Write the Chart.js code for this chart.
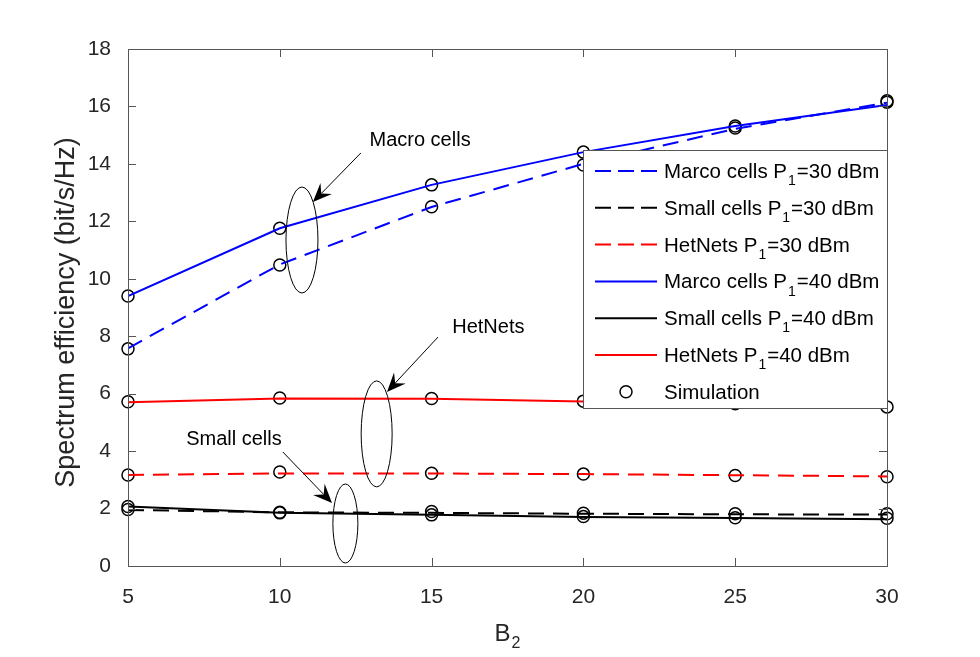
<!DOCTYPE html>
<html>
<head>
<meta charset="utf-8">
<script src="https://cdn.jsdelivr.net/npm/chart.js@4.4.1/dist/chart.umd.min.js"></script>
<style>
  html, body { margin: 0; padding: 0; background: #fff; }
</style>
</head>
<body>
<canvas id="chart" width="980" height="657"></canvas>
<script>
// x values (B2)
const b2 = [5, 10, 15, 20, 25, 30];

// analytical curves
const macro30 = [7.58, 10.5, 12.5, 14.0, 15.22, 16.13];
const small30 = [1.95, 1.87, 1.85, 1.82, 1.80, 1.79];
const het30 = [3.17, 3.22, 3.22, 3.20, 3.16, 3.12];
const macro40 = [9.4, 11.76, 13.27, 14.41, 15.32, 16.05];
const small40 = [2.07, 1.85, 1.78, 1.71, 1.67, 1.63];
const het40 = [5.70, 5.83, 5.82, 5.73, 5.63, 5.55];

// simulation markers
const simMacro30 = [7.56, 10.48, 12.51, 13.96, 15.25, 16.2];
const simMacro40 = [9.40, 11.76, 13.27, 14.41, 15.32, 16.15];
const simSmall30 = [1.97, 1.87, 1.90, 1.84, 1.82, 1.82];
const simSmall40 = [2.07, 1.85, 1.78, 1.72, 1.68, 1.66];
const simHet30 = [3.17, 3.27, 3.23, 3.20, 3.15, 3.11];
const simHet40 = [5.72, 5.85, 5.83, 5.74, 5.65, 5.54];

const yTicks = [0, 2, 4, 6, 8, 10, 12, 14, 16, 18];
const xTicks = [5, 10, 15, 20, 25, 30];

const FONT = '"Liberation Sans", Arial, Helvetica, sans-serif';
const TEXT = '#262626';

const pts = (ys) => ys.map((y, i) => ({ x: b2[i], y: y }));

function series(label, values, color, dashed) {
  return {
    label: label,
    data: pts(values),
    borderColor: color,
    backgroundColor: color,
    borderWidth: 2,
    borderDash: dashed ? [16, 9] : [],
    pointRadius: 0,
    tension: 0,
    fill: false,
  };
}

const simPoints = [simMacro30, simMacro40, simSmall30, simSmall40, simHet30, simHet40]
  .map(pts)
  .flat();

// legend rows: [name, power, color, dashed]
const legendRows = [
  ['Marco cells', '30', '#0000ff', true],
  ['Small cells', '30', '#000000', true],
  ['HetNets', '30', '#ff0000', true],
  ['Marco cells', '40', '#0000ff', false],
  ['Small cells', '40', '#000000', false],
  ['HetNets', '40', '#ff0000', false],
];

// annotations, anchored in data units
const notes = [
  { text: 'Macro cells', tx: 14.62, ty: 14.83, from: [12.67, 14.38], to: [11.09, 12.67], ex: 10.73, ey: 11.35, rx: 16, ry: 53 },
  { text: 'HetNets', tx: 16.87, ty: 8.32, from: [15.21, 7.97], to: [13.53, 6.06], ex: 13.19, ey: 4.60, rx: 15.5, ry: 53 },
  { text: 'Small cells', tx: 8.49, ty: 4.39, from: [10.1, 3.97], to: [11.72, 2.19], ex: 12.16, ey: 1.48, rx: 12.5, ry: 39.5 },
];

function drawSub(ctx, x, y, main, sub, rest, size) {
  ctx.font = size + 'px ' + FONT;
  ctx.fillText(main, x, y);
  x += ctx.measureText(main).width;
  ctx.font = Math.round(size * 0.7) + 'px ' + FONT;
  ctx.fillText(sub, x + 1, y + size * 0.35);
  x += ctx.measureText(sub).width + 2;
  ctx.font = size + 'px ' + FONT;
  ctx.fillText(rest, x, y);
}

function arrow(ctx, x1, y1, x2, y2) {
  const ang = Math.atan2(y2 - y1, x2 - x1);
  const len = 19, half = 8, notch = 12;
  ctx.beginPath();
  ctx.moveTo(x1, y1);
  ctx.lineTo(x2 - Math.cos(ang) * notch, y2 - Math.sin(ang) * notch);
  ctx.lineWidth = 1;
  ctx.stroke();
  ctx.beginPath();
  ctx.moveTo(x2, y2);
  ctx.lineTo(x2 - Math.cos(ang) * len - Math.sin(ang) * half, y2 - Math.sin(ang) * len + Math.cos(ang) * half);
  ctx.lineTo(x2 - Math.cos(ang) * notch, y2 - Math.sin(ang) * notch);
  ctx.lineTo(x2 - Math.cos(ang) * len + Math.sin(ang) * half, y2 - Math.sin(ang) * len - Math.cos(ang) * half);
  ctx.closePath();
  ctx.fill();
}

const decorations = {
  id: 'decorations',
  afterDatasetsDraw(chart) {
    const { ctx, chartArea: a, scales: { x, y } } = chart;
    ctx.save();

    // annotations
    ctx.strokeStyle = '#000';
    ctx.fillStyle = '#000';
    notes.forEach((n) => {
      ctx.beginPath();
      ctx.lineWidth = 1;
      ctx.ellipse(x.getPixelForValue(n.ex), y.getPixelForValue(n.ey), n.rx, n.ry, 0, 0, Math.PI * 2);
      ctx.stroke();
      arrow(ctx, x.getPixelForValue(n.from[0]), y.getPixelForValue(n.from[1]),
        x.getPixelForValue(n.to[0]), y.getPixelForValue(n.to[1]));
      ctx.font = '20px ' + FONT;
      ctx.textAlign = 'center';
      ctx.textBaseline = 'middle';
      ctx.fillText(n.text, x.getPixelForValue(n.tx), y.getPixelForValue(n.ty));
    });

    // axes box with inward ticks
    ctx.strokeStyle = '#555';
    ctx.lineWidth = 1;
    ctx.setLineDash([]);
    ctx.strokeRect(a.left + 0.5, a.top + 0.5, a.right - a.left, a.bottom - a.top);
    ctx.beginPath();
    xTicks.forEach((v) => {
      const px = Math.round(x.getPixelForValue(v)) + 0.5;
      ctx.moveTo(px, a.bottom); ctx.lineTo(px, a.bottom - 8);
      ctx.moveTo(px, a.top); ctx.lineTo(px, a.top + 8);
    });
    yTicks.forEach((v) => {
      const py = Math.round(y.getPixelForValue(v)) + 0.5;
      ctx.moveTo(a.left, py); ctx.lineTo(a.left + 8, py);
      ctx.moveTo(a.right, py); ctx.lineTo(a.right - 8, py);
    });
    ctx.stroke();

    // legend
    const lw = 304, lh = 258;
    const lx = a.right - lw, ly = a.top + 101;
    ctx.fillStyle = '#fff';
    ctx.fillRect(lx, ly, lw, lh);
    ctx.strokeStyle = '#555';
    ctx.strokeRect(lx + 0.5, ly + 0.5, lw, lh);
    ctx.textAlign = 'left';
    ctx.textBaseline = 'alphabetic';
    const rowH = 36.8;
    legendRows.forEach((r, i) => {
      const cy = ly + 21 + i * rowH;
      ctx.beginPath();
      ctx.strokeStyle = r[2];
      ctx.lineWidth = 2;
      ctx.setLineDash(r[3] ? [16, 7] : []);
      ctx.moveTo(lx + 12, cy);
      ctx.lineTo(lx + 74, cy);
      ctx.stroke();
      ctx.setLineDash([]);
      ctx.fillStyle = '#000';
      drawSub(ctx, lx + 81, cy + 7, r[0] + ' P', '1', '=' + r[1] + ' dBm', 20.5);
    });
    const sy = ly + 21 + 6 * rowH;
    ctx.beginPath();
    ctx.strokeStyle = '#000';
    ctx.lineWidth = 1.5;
    ctx.arc(lx + 43, sy, 6, 0, Math.PI * 2);
    ctx.stroke();
    ctx.fillStyle = '#000';
    ctx.font = '20.5px ' + FONT;
    ctx.fillText('Simulation', lx + 81, sy + 7);

    // axis titles
    ctx.fillStyle = TEXT;
    ctx.save();
    ctx.translate(74, (a.top + a.bottom) / 2 + 5);
    ctx.rotate(-Math.PI / 2);
    ctx.textAlign = 'center';
    ctx.font = '27px ' + FONT;
    ctx.fillText('Spectrum efficiency (bit/s/Hz)', 0, 0);
    ctx.restore();

    ctx.textAlign = 'left';
    ctx.font = '24px ' + FONT;
    const bx = (a.left + a.right) / 2 - 13;
    ctx.fillText('B', bx, 641);
    const bw = ctx.measureText('B').width;
    ctx.font = '16px ' + FONT;
    ctx.fillText('2', bx + bw + 1, 648);

    ctx.restore();
  },
};

new Chart(document.getElementById('chart'), {
  type: 'line',
  data: {
    datasets: [
      series('Marco cells P1=30 dBm', macro30, '#0000ff', true),
      series('Small cells P1=30 dBm', small30, '#000000', true),
      series('HetNets P1=30 dBm', het30, '#ff0000', true),
      series('Marco cells P1=40 dBm', macro40, '#0000ff', false),
      series('Small cells P1=40 dBm', small40, '#000000', false),
      series('HetNets P1=40 dBm', het40, '#ff0000', false),
      {
        label: 'Simulation',
        type: 'scatter',
        data: simPoints,
        showLine: false,
        pointStyle: 'circle',
        pointRadius: 6,
        pointBorderWidth: 1.5,
        pointBorderColor: '#000',
        pointBackgroundColor: 'rgba(0,0,0,0)',
        clip: false,
      },
    ],
  },
  options: {
    responsive: false,
    animation: false,
    devicePixelRatio: 1,
    layout: { padding: { left: 0, right: 93, top: 49, bottom: 0 } },
    plugins: { legend: { display: false }, tooltip: { enabled: false } },
    scales: {
      x: {
        type: 'linear',
        min: 5,
        max: 30,
        afterFit: (s) => { s.height = 91; },
        afterBuildTicks: (s) => { s.ticks = xTicks.map((v) => ({ value: v })); },
        grid: { display: false },
        border: { display: false },
        ticks: { color: TEXT, font: { family: FONT, size: 21 }, padding: 11 },
      },
      y: {
        min: 0,
        max: 18,
        afterFit: (s) => { s.width = 128; },
        afterBuildTicks: (s) => { s.ticks = yTicks.map((v) => ({ value: v })); },
        grid: { display: false },
        border: { display: false },
        ticks: { color: TEXT, font: { family: FONT, size: 21 }, padding: 9 },
      },
    },
  },
  plugins: [decorations],
});
</script>
</body>
</html>
